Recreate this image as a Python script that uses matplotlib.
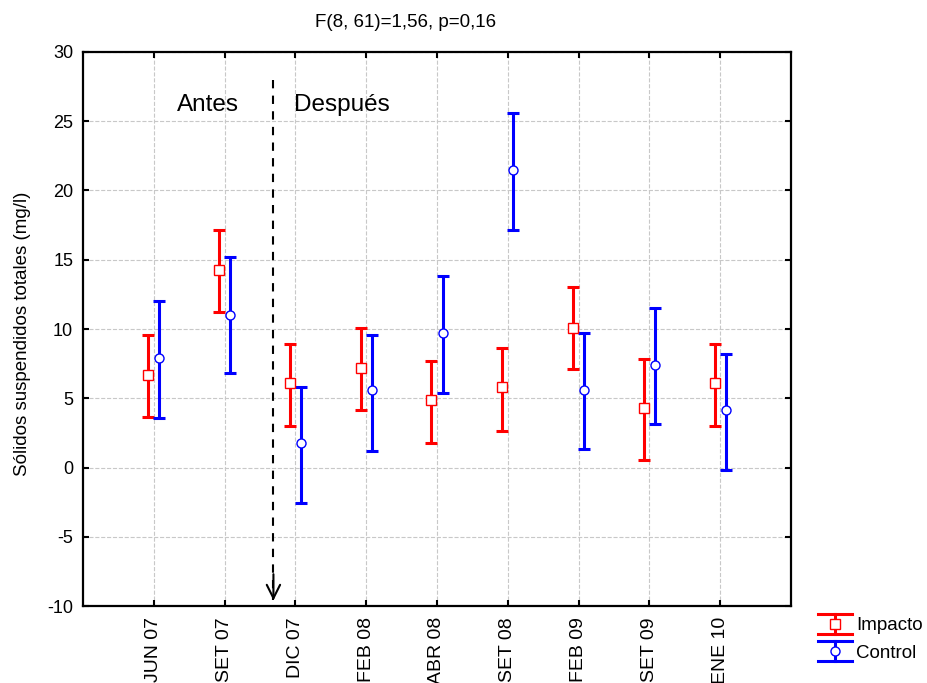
import matplotlib
matplotlib.use('Agg')
import matplotlib.pyplot as plt
from matplotlib.legend_handler import HandlerBase
from matplotlib.lines import Line2D

plt.rcParams['font.family'] = ['Liberation Sans', 'DejaVu Sans']
plt.rcParams['axes.unicode_minus'] = False

# Sampling campaigns
campaigns = ['JUN 07', 'SET 07', 'DIC 07', 'FEB 08', 'ABR 08',
             'SET 08', 'FEB 09', 'SET 09', 'ENE 10']

# Impacto: mean and 95% CI bounds (mg/l)
impacto_mean = [6.66, 14.26, 6.12, 7.18, 4.85, 5.79, 10.10, 4.30, 6.12]
impacto_low = [3.62, 11.23, 2.97, 4.15, 1.75, 2.64, 7.09, 0.57, 3.00]
impacto_high = [9.57, 17.17, 8.92, 10.07, 7.71, 8.60, 13.06, 7.86, 8.92]

# Control: mean and 95% CI bounds (mg/l)
control_mean = [7.93, 10.99, 1.77, 5.60, 9.73, 21.48, 5.57, 7.38, 4.13]
control_low = [3.55, 6.80, -2.56, 1.20, 5.40, 17.17, 1.34, 3.14, -0.20]
control_high = [12.00, 15.20, 5.84, 9.60, 13.83, 25.57, 9.73, 11.52, 8.17]

IMPACTO_COLOR = '#ff0000'
CONTROL_COLOR = '#0000ff'
OFFSET = 0.08


class HandlerCI(HandlerBase):
    """Legend key: wide caps, short vertical bar and the marker."""

    def create_artists(self, legend, orig_handle, xdescent, ydescent,
                       width, height, fontsize, trans):
        color = orig_handle.get_color()
        marker = orig_handle.get_marker()
        x0, x1 = -xdescent, -xdescent + width
        xm = (x0 + x1) / 2
        ym = -ydescent + height / 2
        half = 7.3
        yb, yt = ym - half, ym + half
        kw = dict(color=color, lw=2.2, transform=trans)
        top = Line2D([x0, x1], [yt, yt], **kw)
        bot = Line2D([x0, x1], [yb, yb], **kw)
        bar = Line2D([xm, xm], [yb, yt], **kw)
        mk = Line2D([xm], [ym], marker=marker, markersize=6.5, color=color,
                    markerfacecolor='white', markeredgewidth=1.0, linestyle='none',
                    transform=trans)
        return [top, bot, bar, mk]


def plot_series(ax, pos, mean, low, high, color, marker):
    err = [[m - lo for m, lo in zip(mean, low)], [hi - m for m, hi in zip(mean, high)]]
    ax.errorbar(pos, mean, yerr=err, fmt='none', ecolor=color, elinewidth=2.2,
                capsize=4, capthick=2.2, zorder=3)
    ax.plot(pos, mean, linestyle='none', marker=marker, markersize=6.5, color=color,
            markerfacecolor='white', markeredgewidth=1.0, zorder=4)


fig = plt.figure(figsize=(9.28, 6.83), dpi=100)
ax = fig.add_axes([0.0894, 0.1127, 0.7630, 0.8112])

x = list(range(len(campaigns)))
plot_series(ax, [i - OFFSET for i in x], impacto_mean, impacto_low, impacto_high,
            IMPACTO_COLOR, 's')
plot_series(ax, [i + OFFSET for i in x], control_mean, control_low, control_high,
            CONTROL_COLOR, 'o')

ax.set_xlim(-1, 9)
ax.set_ylim(-10, 30)
ax.set_xticks(x)
ax.set_xticklabels(campaigns, rotation=90, fontsize=14)
ax.set_yticks(range(-10, 31, 5))
ax.tick_params(axis='y', labelsize=13, pad=7)
ax.tick_params(axis='x', pad=8)
ax.tick_params(direction='in', length=4, width=1.5, top=True, right=True)
for spine in ax.spines.values():
    spine.set_linewidth(1.6)
ax.grid(True, color='#c8c8c8', linestyle='--', linewidth=0.8, zorder=0)
ax.set_axisbelow(True)

ax.set_ylabel('Sólidos suspendidos totales (mg/l)', fontsize=13.5)
ax.yaxis.set_label_coords(-0.074, 0.491)
ax.set_title('F(8, 61)=1,56, p=0,16', fontsize=13.5, pad=18, x=0.456)

# Before / after separator
x_sep = 1.69
ax.plot([x_sep, x_sep], [28.0, -9.6], color='black', linestyle=(0, (4, 3.5)),
        linewidth=1.5, zorder=5)
ax.annotate('', xy=(x_sep, -9.8), xytext=(x_sep, -7.5),
            arrowprops=dict(arrowstyle='->', color='black', lw=1.5,
                            mutation_scale=24), zorder=5)
ax.text(0.77, 26.2, 'Antes', fontsize=17.5, ha='center', va='center')
ax.text(1.98, 26.2, 'Después', fontsize=17.5, ha='left', va='center')

handles = [Line2D([], [], color=IMPACTO_COLOR, marker='s'),
           Line2D([], [], color=CONTROL_COLOR, marker='o')]
fig.legend(handles, ['Impacto', 'Control'], loc='upper left',
           bbox_to_anchor=(0.8815, 0.0963), frameon=False, fontsize=13.5,
           handler_map={Line2D: HandlerCI()}, handlelength=1.8,
           handletextpad=0.25, labelspacing=0.55, borderpad=0,
           borderaxespad=0)

fig.savefig('out.png', dpi=100)
